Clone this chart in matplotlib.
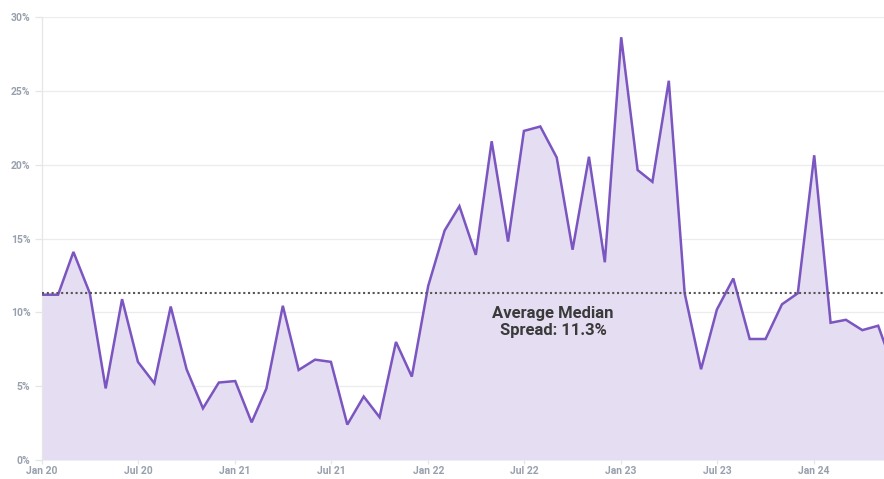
import matplotlib
matplotlib.use("Agg")
import matplotlib.pyplot as plt
import pandas as pd

# Monthly median spread (%) from Jan 2020
start_month = "2020-01-01"
spread = [11.2, 11.2, 14.1, 11.3, 4.85, 10.9, 6.65, 5.2, 10.4, 6.15, 3.5, 5.25,
          5.35, 2.55, 4.85, 10.45, 6.1, 6.8, 6.65, 2.4, 4.3, 2.9, 8.0, 5.65,
          11.8, 15.55, 17.2, 13.9, 21.6, 14.8, 22.3, 22.6, 20.5, 14.25, 20.55, 13.4,
          28.65, 19.65, 18.85, 25.7, 11.3, 6.15, 10.2, 12.3, 8.2, 8.2, 10.55, 11.3,
          20.65, 9.3, 9.5, 8.8, 9.1, 6.0]
average = 11.3
y_ticks = [0, 5, 10, 15, 20, 25, 30]
x_tick_dates = ["2020-01-01", "2020-07-01", "2021-01-01", "2021-07-01", "2022-01-01",
                "2022-07-01", "2023-01-01", "2023-07-01", "2024-01-01"]
x_tick_labels = ["Jan 20", "Jul 20", "Jan 21", "Jul 21", "Jan 22",
                 "Jul 22", "Jan 23", "Jul 23", "Jan 24"]
annotation = "Average Median\nSpread: 11.3%"

dates = pd.date_range(start_month, periods=len(spread), freq="MS")

plt.rcParams['font.family'] = ['Roboto', 'DejaVu Sans']

fig = plt.figure(figsize=(8.84, 4.79), dpi=100)
ax = fig.add_axes([41.7 / 884, 1 - 460 / 479, 1 - 41.7 / 884, (460 - 17.3) / 479])

line_color = "#7b55c0"
fill_color = "#e5ddf1"

ax.fill_between(dates, spread, 0, color=fill_color, linewidth=0, zorder=2)
ax.plot(dates, spread, color=line_color, linewidth=1.8, zorder=4, solid_joinstyle="miter")
ax.axhline(average, color="#555555", linestyle=(0, (1, 1.3)), linewidth=1.5, zorder=5)

ax.text(pd.Timestamp("2022-08-25"), 10.45, annotation, ha="center", va="top",
        fontsize=12, fontweight="bold", color="#3a3a3a", linespacing=1.2, zorder=6)

ax.set_ylim(0, 30)
ax.set_yticks(y_ticks)
ax.set_yticklabels([f"{t}%" for t in y_ticks])
left = pd.Timestamp("2020-01-01")
right = left + pd.Timedelta(days=1593)
ax.set_xlim(left, right)
ax.set_xticks(pd.to_datetime(x_tick_dates))
ax.set_xticklabels(x_tick_labels)

ax.grid(axis="y", color="#ececec", linewidth=0.9, zorder=1)
ax.grid(axis="x", visible=False)
for s in ["top", "right", "bottom"]:
    ax.spines[s].set_visible(False)
ax.spines["left"].set_color("#e6e6e6")
ax.spines["left"].set_linewidth(0.9)

ax.tick_params(axis="y", length=5, width=0.9, color="#e6e6e6", pad=3,
               labelsize=7.5, labelcolor="#98a0ad")
ax.tick_params(axis="x", length=3, width=0.9, color="#e6e6e6", pad=1.5,
               labelsize=7.5, labelcolor="#98a0ad")
for lbl in ax.get_xticklabels() + ax.get_yticklabels():
    lbl.set_fontweight("bold")

fig.savefig("out.png", dpi=100)
